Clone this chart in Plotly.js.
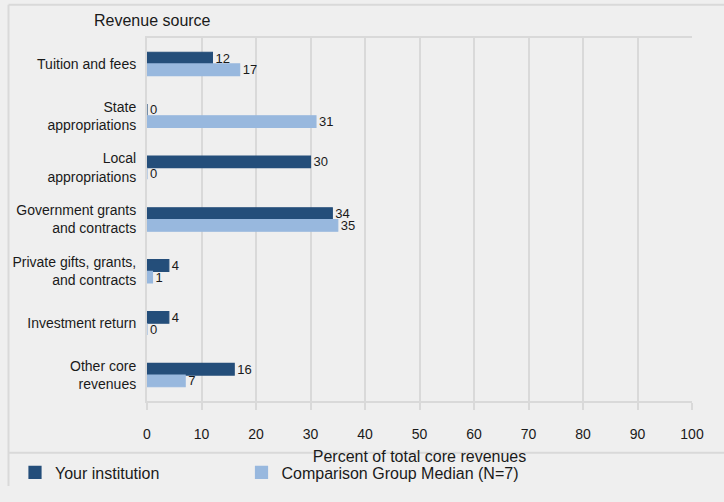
<!DOCTYPE html>
<html>
<head>
<meta charset="utf-8">
<script src="https://cdn.plot.ly/plotly-3.0.1.min.js"></script>
<style>
  html, body { margin: 0; padding: 0; background: #efefef; }
  #chart { width: 724px; height: 502px; }
</style>
</head>
<body>
<div id="chart"></div>
<script>
// ---- data ----
const categories = [
  "Tuition and fees",
  "State<br>appropriations",
  "Local<br>appropriations",
  "Government grants<br>and contracts",
  "Private gifts, grants,<br>and contracts",
  "Investment return",
  "Other core<br>revenues"
];
const yourInstitution = [12, 0, 30, 34, 4, 4, 16];
const comparisonMedian = [17, 31, 0, 35, 1, 0, 7];
const seriesNames = ["Your institution", "Comparison Group Median (N=7)"];
const xTicks = [0, 10, 20, 30, 40, 50, 60, 70, 80, 90, 100];
const xTitle = "Percent of total core revenues";
const yTitle = "Revenue source";

const darkBlue = "#244e7a";
const lightBlue = "#98b8de";
const gridCol = "#d9d9d9";
const bg = "#efefef";
const font = "Arial, 'Liberation Sans', sans-serif";

function barTrace(name, vals, color, legendId) {
  return {
    type: "bar",
    orientation: "h",
    name: name,
    legend: legendId,
    y: categories,
    x: vals,
    marker: { color: color, line: { color: color, width: 1.2 } },
    text: vals.map(String),
    textposition: "outside",
    constraintext: "none",
    cliponaxis: false,
    textfont: { family: font, size: 13, color: "#1a1a1a" },
    hoverinfo: "x+name"
  };
}

const data = [
  barTrace(seriesNames[0], yourInstitution, darkBlue, "legend"),
  barTrace(seriesNames[1], comparisonMedian, lightBlue, "legend2")
];

// pixel helpers for paper coordinates
const L = 147, R = 692, T = 38, B = 414;
const px = v => (v - L) / (R - L);
const py = v => (B - v) / (B - T);

const legendBase = {
  orientation: "h",
  xanchor: "left",
  y: py(488),
  yanchor: "middle",
  bgcolor: "rgba(0,0,0,0)",
  font: { family: font, size: 16, color: "#1a1a1a" }
};

const layout = {
  width: 724,
  height: 502,
  margin: { l: L, r: 724 - R, t: T, b: 502 - B },
  paper_bgcolor: bg,
  plot_bgcolor: bg,
  font: { family: font, size: 14, color: "#1a1a1a" },
  barmode: "group",
  bargap: 0.55,
  bargroupgap: 0,
  showlegend: true,
  legend: Object.assign({}, legendBase, { x: px(15) }),
  legend2: Object.assign({}, legendBase, { x: px(241.5) }),
  xaxis: {
    range: [0, 100],
    tickvals: xTicks,
    ticktext: xTicks.map(String),
    showgrid: true,
    gridcolor: gridCol,
    gridwidth: 2,
    zeroline: false,
    showline: true,
    linecolor: gridCol,
    linewidth: 2,
    mirror: true,
    ticks: "outside",
    ticklen: 7,
    tickwidth: 2,
    tickcolor: gridCol,
    ticklabelstandoff: 12,
    tickfont: { family: font, size: 14, color: "#1a1a1a" },
    title: { text: xTitle, font: { family: font, size: 16, color: "#1a1a1a" }, standoff: 10 },
    fixedrange: true
  },
  yaxis: {
    type: "category",
    autorange: "reversed",
    showgrid: false,
    zeroline: false,
    showline: true,
    linecolor: gridCol,
    linewidth: 2,
    ticks: "outside",
    ticklen: 6,
    tickcolor: "rgba(0,0,0,0)",
    tickfont: { family: font, size: 14, color: "#1a1a1a" },
    fixedrange: true
  },
  annotations: [
    {
      text: yTitle,
      xref: "paper", yref: "paper",
      x: px(92), y: py(20),
      xanchor: "left", yanchor: "middle",
      showarrow: false,
      font: { family: font, size: 16, color: "#1a1a1a" }
    }
  ],
  shapes: [
    // outer frame (left + top)
    { type: "line", xref: "paper", yref: "paper", x0: px(8.5), x1: px(8.5), y0: py(3.5), y1: py(502), line: { color: gridCol, width: 2 } },
    { type: "line", xref: "paper", yref: "paper", x0: px(8.5), x1: px(724), y0: py(3.5), y1: py(3.5), line: { color: gridCol, width: 2 } },
    // legend separator
    { type: "line", xref: "paper", yref: "paper", x0: px(8.5), x1: px(724), y0: py(467.5), y1: py(467.5), line: { color: gridCol, width: 2 } }
  ]
};

Plotly.newPlot("chart", data, layout, { displayModeBar: false, staticPlot: true });
</script>
</body>
</html>
